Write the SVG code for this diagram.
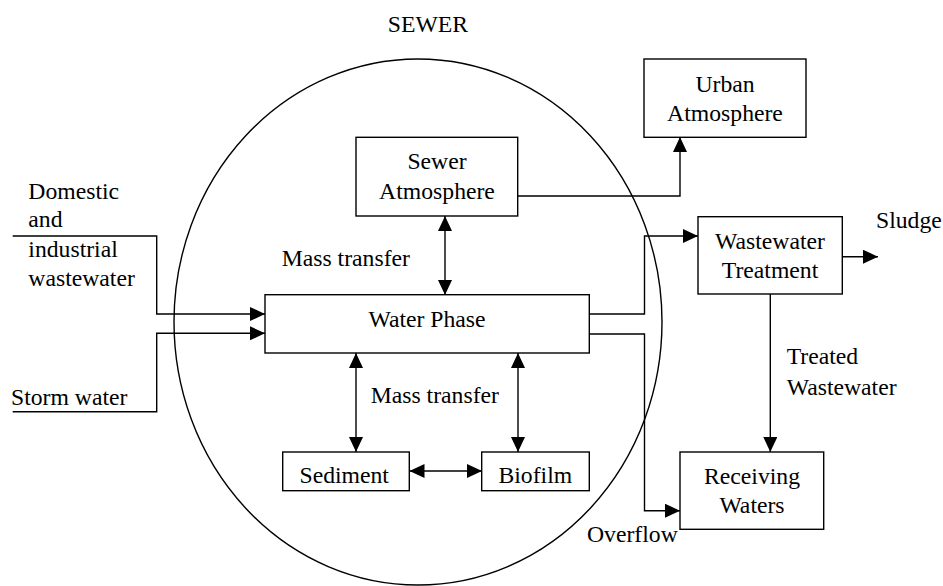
<svg xmlns="http://www.w3.org/2000/svg" width="943" height="586" viewBox="0 0 943 586">
<style>
.box{fill:#fff;stroke:#000;stroke-width:1.4}
.t{font-size:23.7px;fill:#000}
.m{text-anchor:middle}
.c{fill:none;stroke:#000;stroke-width:1.4}
</style>
<defs>
<marker id="ah" markerUnits="userSpaceOnUse" markerWidth="16" markerHeight="15" refX="15" refY="7" orient="auto-start-reverse" viewBox="0 0 16 15">
<path d="M0,0 L15,7 L0,14 z" fill="#000"/>
</marker>
<clipPath id="clipSed"><rect x="283" y="452" width="127" height="31.8"/></clipPath>
<clipPath id="clipBio"><rect x="482" y="452" width="108" height="31.8"/></clipPath>
</defs>
<rect width="943" height="586" fill="#fff"/>

<g font-family="'Liberation Serif', 'DejaVu Serif', serif">
<g id="sewer">
<ellipse cx="418" cy="322" rx="244" ry="263" fill="none" stroke="#000" stroke-width="1.4"/>
<text class="t m" x="428" y="32">SEWER</text>
</g>

<g id="connectors">
<path class="c" d="M12.7,236 H156.7 V314 H265" marker-end="url(#ah)"/>
<path class="c" d="M12.7,411.7 H156.7 V333.3 H265" marker-end="url(#ah)"/>
<path class="c" d="M445,216 V295" marker-start="url(#ah)" marker-end="url(#ah)"/>
<path class="c" d="M356,353 V452" marker-start="url(#ah)" marker-end="url(#ah)"/>
<path class="c" d="M518,353 V452" marker-start="url(#ah)" marker-end="url(#ah)"/>
<path class="c" d="M409.5,471 H482" marker-start="url(#ah)" marker-end="url(#ah)"/>
<path class="c" d="M518,196 H680 V137" marker-end="url(#ah)"/>
<path class="c" d="M589,314 H644.5 V236 H698" marker-end="url(#ah)"/>
<path class="c" d="M589,334 H644.5 V510.7 H680" marker-end="url(#ah)"/>
<path class="c" d="M842,256.7 H878" marker-end="url(#ah)"/>
<path class="c" d="M770.3,294 V452" marker-end="url(#ah)"/>
</g>

<g id="sewer-atmosphere">
<rect class="box" x="356" y="137.3" width="161.7" height="78.7"/>
<text class="t m" x="437" y="169">Sewer</text>
<text class="t m" x="437" y="199">Atmosphere</text>
</g>

<g id="urban-atmosphere">
<rect class="box" x="644" y="59" width="162" height="78.3"/>
<text class="t m" x="725" y="91.7">Urban</text>
<text class="t m" x="725" y="121">Atmosphere</text>
</g>

<g id="water-phase">
<rect class="box" x="265" y="294.7" width="324.3" height="58.3"/>
<text class="t m" x="427" y="326.7">Water Phase</text>
</g>

<g id="sediment">
<rect class="box" x="282.7" y="452" width="126.6" height="38.7"/>
<text class="t m" x="344.2" y="482.5" clip-path="url(#clipSed)">Sediment</text>
</g>

<g id="biofilm">
<rect class="box" x="481.7" y="452" width="107.6" height="38.7"/>
<text class="t m" x="535.3" y="482.5" clip-path="url(#clipBio)">Biofilm</text>
</g>

<g id="wastewater-treatment">
<rect class="box" x="698" y="216.7" width="144.3" height="77.3"/>
<text class="t m" x="770" y="249">Wastewater</text>
<text class="t m" x="770" y="278">Treatment</text>
</g>

<g id="receiving-waters">
<rect class="box" x="680" y="452" width="143.7" height="77.3"/>
<text class="t m" x="752" y="484">Receiving</text>
<text class="t m" x="752" y="512.7">Waters</text>
</g>

<g id="labels">
<text class="t" x="28.3" y="199.3">Domestic</text>
<text class="t" x="28.3" y="227">and</text>
<text class="t" x="28.3" y="256.7">industrial</text>
<text class="t" x="28.3" y="286">wastewater</text>
<text class="t" x="11" y="405">Storm water</text>
<text class="t" x="281.7" y="265.7">Mass transfer</text>
<text class="t" x="370.7" y="403.3">Mass transfer</text>
<text class="t" x="876" y="228">Sludge</text>
<text class="t" x="786.7" y="364.3">Treated</text>
<text class="t" x="786.7" y="395">Wastewater</text>
<text class="t" x="587" y="541.7">Overflow</text>
</g>
</g>
</svg>
